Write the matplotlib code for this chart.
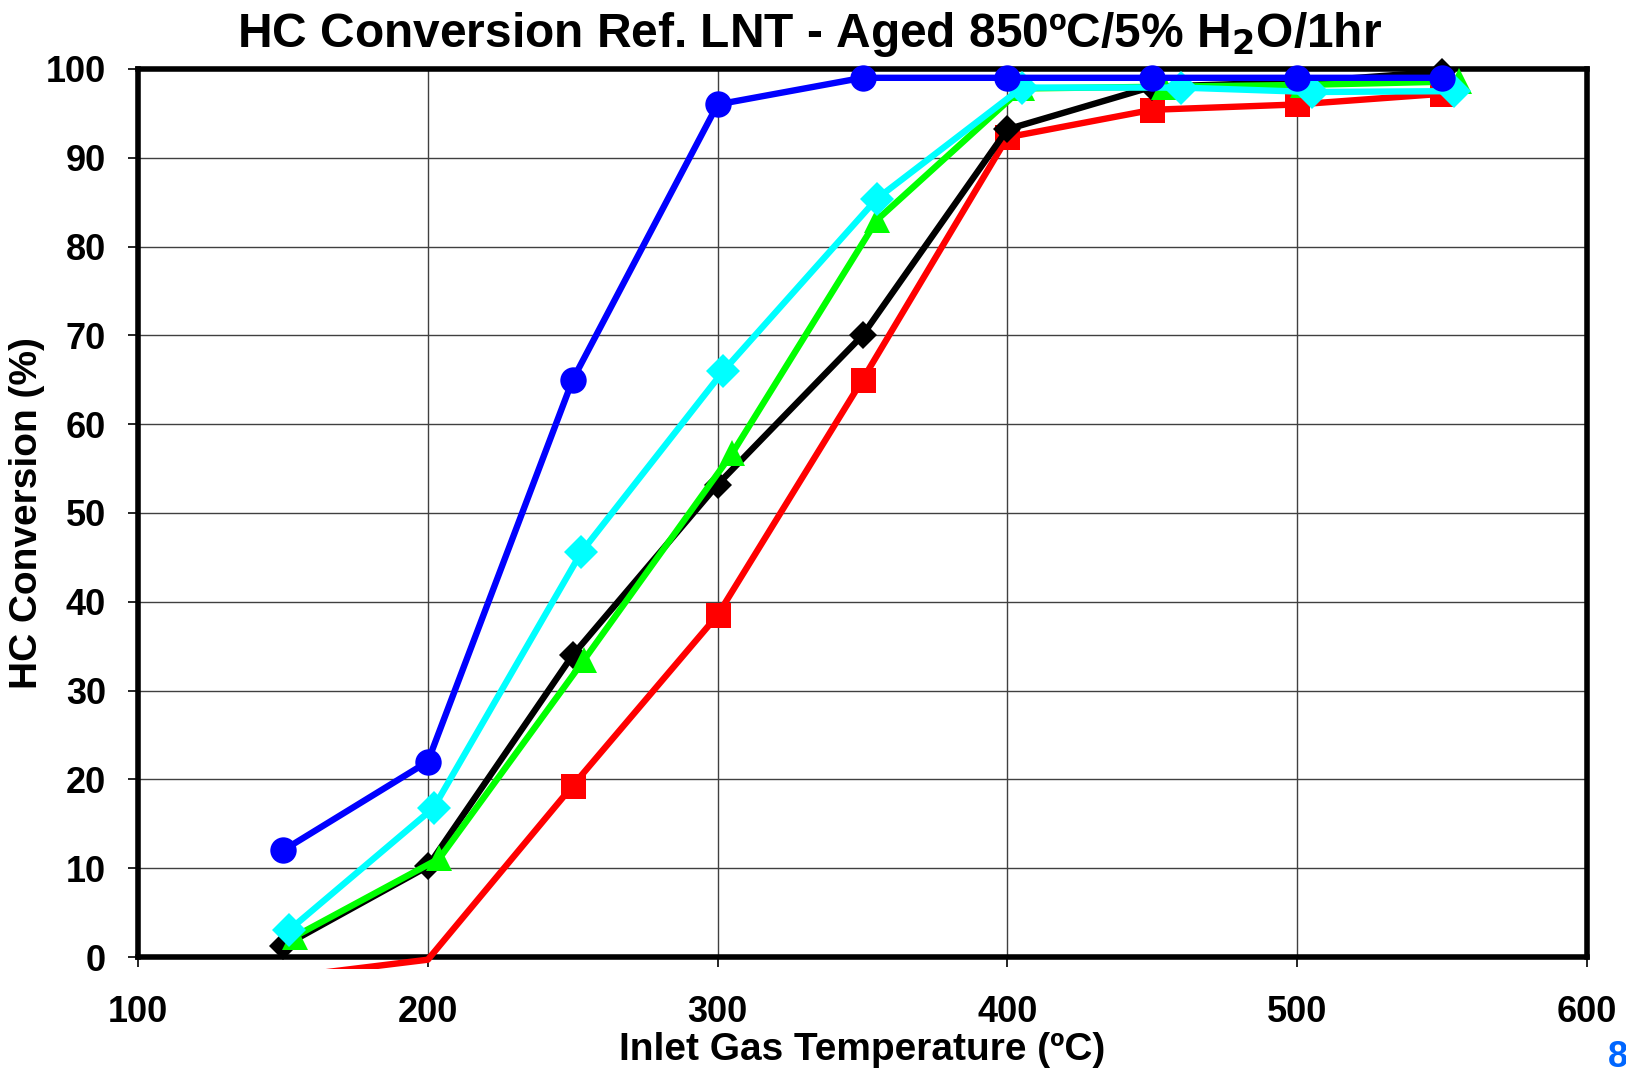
import matplotlib.pyplot as plt
from matplotlib.patches import Rectangle

plt.rcParams['font.family'] = ['Liberation Sans', 'DejaVu Sans']
plt.rcParams['font.weight'] = 'bold'

# HC conversion (%) vs inlet temperature
temp_blue = [150, 200, 250, 300, 350, 400, 450, 500, 550]
conv_blue = [12, 22, 65, 96, 99, 99, 99, 99, 99]

temp_red = [150, 200, 250, 300, 350, 400, 450, 500, 550]
conv_red = [-2.3, -0.3, 19.3, 38.5, 65, 92.3, 95.4, 96, 97.2]

temp_black = [150, 200, 250, 300, 350, 400, 450, 500, 550]
conv_black = [1.2, 10.2, 34, 53.2, 70, 93.2, 98, 98.5, 99.7]

temp_green = [154, 204, 254, 305, 355, 405, 454, 502, 556]
conv_green = [2.3, 11.1, 33.5, 56.7, 83, 97.8, 98, 98.2, 98.6]

temp_cyan = [152, 202, 253, 302, 355, 405, 460, 505, 554]
conv_cyan = [3.0, 16.8, 45.6, 66, 85.4, 97.9, 97.9, 97.4, 97.5]

fig = plt.figure(figsize=(16.26, 10.77), dpi=100)
ax = fig.add_axes([0.0849, 0.1114, 0.8911, 0.8246])

# plot area clip sits a little below the x axis, like the original chart
clip = Rectangle((0, -0.014), 1, 1.04, transform=ax.transAxes, visible=False)
ax.add_patch(clip)

lw = 4.6
series = [
    (temp_red, conv_red, '#ff0000', 's', 18, 2),
    (temp_black, conv_black, '#000000', 'D', 14, 0),
    (temp_green, conv_green, '#00ff00', '^', 19, 0),
    (temp_cyan, conv_cyan, '#00ffff', 'D', 17, 0),
    (temp_blue, conv_blue, '#0000ff', 'o', 19, 0),
]
for i, (x, y, c, m, ms, first) in enumerate(series):
    ln, = ax.plot(x, y, color=c, lw=lw, marker=m, markersize=ms,
                  markeredgewidth=0, markevery=slice(first, None), zorder=3 + i)
    ln.set_clip_path(clip)

ax.set_xlim(100, 600)
ax.set_ylim(0, 100)
ax.set_xticks(range(100, 601, 100))
ax.set_yticks(range(0, 101, 10))
ax.grid(True, color='#404040', lw=1.0)
ax.set_axisbelow(True)
for s in ax.spines.values():
    s.set_linewidth(4)
    s.set_zorder(2)
ax.tick_params(axis='both', labelsize=26, length=7, width=1.2, direction='out')
ax.tick_params(axis='x', pad=20)
ax.tick_params(axis='y', pad=16)

ax.set_xlabel('Inlet Gas Temperature (ºC)', fontsize=28, fontweight='bold', labelpad=2)
ax.set_ylabel('HC Conversion (%)', fontsize=28, fontweight='bold')
ax.yaxis.set_label_coords(-0.064, 0.5)

fig.text(0.498, 1 - 47 / 1077,
         'HC Conversion Ref. LNT - Aged 850ºC/5% H$_\\mathbf{2}$O/1hr',
         fontsize=34.5, fontweight='bold', ha='center', va='baseline')

fig.text(1608 / 1626, 2 / 1077, '8', color='#0066ff', fontsize=26,
         fontweight='bold', ha='left', va='bottom')

fig.savefig('out.png', dpi=100)
